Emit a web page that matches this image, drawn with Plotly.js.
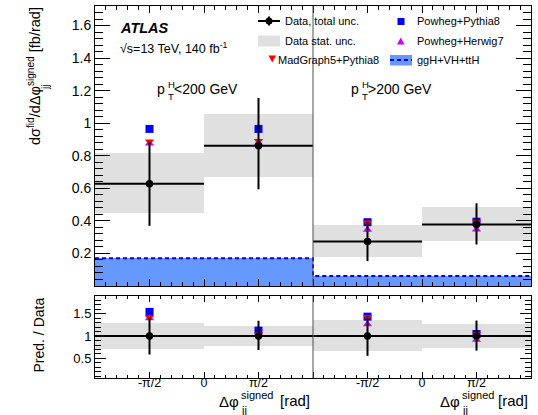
<!DOCTYPE html>
<html>
<head>
<meta charset="utf-8">
<script src="https://cdn.plot.ly/plotly-3.0.1.min.js"></script>
<style>html,body{margin:0;padding:0;background:#fff;}#chart{width:538px;height:415px;}</style>
</head>
<body>
<div id="chart"></div>
<script>
// ---------- data ----------
const binCenters = [0.5, 1.5, 2.5, 3.5];           // bins: pT<200 (-pi..0, 0..pi), pT>200 (-pi..0, 0..pi)
const dataVal      = [0.628, 0.862, 0.274, 0.378];
const dataErrUp    = [0.257, 0.293, 0.120, 0.130];
const dataErrDown  = [0.258, 0.268, 0.121, 0.123];
const statLow      = [0.450, 0.670, 0.180, 0.278];
const statHigh     = [0.815, 1.055, 0.374, 0.483];
const powhegPythia = [0.965, 0.965, 0.392, 0.395];
const powhegHerwig = [0.875, 0.880, 0.345, 0.347];
const madgraph     = [0.887, 0.890, 0.390, 0.392];
const ggHsum       = [0.171, 0.171, 0.062, 0.062];
const tickVals  = [0.5, 1, 1.5, 2, 2.5, 3, 3.5];
const tickText  = ['-π/2', '0', 'π/2', ' ', '-π/2', '0', 'π/2'];
const yTickVals = [0.2, 0.4, 0.6, 0.8, 1.0, 1.2, 1.4, 1.6];
const yTickText = ['0.2', '0.4', '0.6', '0.8', '1', '1.2', '1.4', '1.6'];
const rTickVals = [0.5, 1, 1.5];
const rTickText = ['0.5', '1', '1.5'];

// ---------- derived ----------
const binHalf = 0.5;
const edges = binCenters.map(c => c - binHalf).concat([binCenters[binCenters.length - 1] + binHalf]);
const div = (a, b) => a.map((v, i) => v / b[i]);
const ones = dataVal.map(() => 1);

const FONT = 'Liberation Sans, Arial, Helvetica, sans-serif';
const STAT = 'rgb(224,224,224)';
const BLUEFILL = 'rgb(102,153,255)';
const BLUELINE = 'rgb(0,0,220)';
const C_PP = 'rgb(0,0,255)';
const C_PH = 'rgb(204,0,255)';
const C_MG = 'rgb(255,0,0)';

function statTrace(lo, hi, xa, ya) {
  return {type: 'bar', x: binCenters, base: lo, y: hi.map((v, i) => v - lo[i]), width: 1,
          marker: {color: STAT, line: {width: 0}}, xaxis: xa, yaxis: ya, hoverinfo: 'skip', showlegend: false};
}
function predTrace(vals, symbol, color, size, xa, ya) {
  return {type: 'scatter', mode: 'markers', x: binCenters, y: vals, xaxis: xa, yaxis: ya,
          marker: {symbol: symbol, color: color, size: size, line: {width: 0}}, showlegend: false, cliponaxis: false};
}
function dataTrace(vals, up, dn, xa, ya) {
  return {type: 'scatter', mode: 'markers', x: binCenters, y: vals, xaxis: xa, yaxis: ya,
          marker: {symbol: 'circle', color: 'black', size: 7.5},
          error_x: {type: 'constant', value: binHalf, width: 0, thickness: 2, color: 'black'},
          error_y: {type: 'data', symmetric: false, array: up, arrayminus: dn, width: 0, thickness: 2, color: 'black'},
          showlegend: false};
}

const traces = [
  // top panel
  statTrace(statLow, statHigh, 'x', 'y'),
  {type: 'bar', x: binCenters, y: ggHsum, width: 1, marker: {color: BLUEFILL, line: {width: 0}},
   xaxis: 'x', yaxis: 'y', hoverinfo: 'skip', showlegend: false},
  {type: 'scatter', mode: 'lines', x: edges, y: ggHsum.concat([ggHsum[ggHsum.length - 1]]), line: {shape: 'hv', color: BLUELINE, width: 2, dash: '4px,3px'},
   xaxis: 'x', yaxis: 'y', showlegend: false},
  predTrace(powhegPythia, 'square', C_PP, 8, 'x', 'y'),
  predTrace(powhegHerwig, 'triangle-up', C_PH, 8, 'x', 'y'),
  predTrace(madgraph, 'triangle-down', C_MG, 8, 'x', 'y'),
  dataTrace(dataVal, dataErrUp, dataErrDown, 'x', 'y'),
  // ratio panel
  statTrace(div(statLow, dataVal), div(statHigh, dataVal), 'x2', 'y2'),
  predTrace(div(powhegPythia, dataVal), 'square', C_PP, 8, 'x2', 'y2'),
  predTrace(div(powhegHerwig, dataVal), 'triangle-up', C_PH, 8, 'x2', 'y2'),
  predTrace(div(madgraph, dataVal), 'triangle-down', C_MG, 8, 'x2', 'y2'),
  dataTrace(ones, div(dataErrUp, dataVal), div(dataErrDown, dataVal), 'x2', 'y2')
];

// ---------- layout helpers (pixel -> paper) ----------
const W = 538, H = 415, ML = 95, MR = 7, MT = 6, MB = 37;
const PW = W - ML - MR, PH = H - MT - MB;
const px = x => (x - ML) / PW;
const py = y => (H - MB - y) / PH;

function ann(text, x, y, o) {
  o = o || {};
  return Object.assign({text: text, xref: 'paper', yref: 'paper', x: px(x), y: py(y), showarrow: false,
    xanchor: 'left', yanchor: 'middle', font: {family: FONT, size: 11, color: 'black'}}, o);
}

const axisCommon = {showline: true, linecolor: 'black', linewidth: 1, mirror: 'allticks', ticks: 'inside',
  tickcolor: 'black', zeroline: false, showgrid: false, tickfont: {family: FONT, color: 'black'}};

const layout = {
  width: W, height: H, margin: {l: ML, r: MR, t: MT, b: MB},
  paper_bgcolor: 'white', plot_bgcolor: 'white', barmode: 'overlay', bargap: 0, showlegend: false,
  font: {family: FONT, color: 'black'},
  xaxis: Object.assign({}, axisCommon, {range: [0, 4], anchor: 'y', tickmode: 'array', tickvals: tickVals,
    showticklabels: false, ticklen: 7, minor: {dtick: 0.1, tick0: 0, ticks: 'inside', ticklen: 4, tickcolor: 'black'}}),
  yaxis: Object.assign({}, axisCommon, {domain: [py(286), 1], range: [0, 1.72], tickmode: 'array', tickvals: yTickVals,
    ticktext: yTickText, ticklen: 15, tickfont: {family: FONT, size: 14, color: 'black'},
    minor: {dtick: 0.04, tick0: 0, ticks: 'inside', ticklen: 8, tickcolor: 'black'}}),
  xaxis2: Object.assign({}, axisCommon, {range: [0, 4], anchor: 'y2', tickmode: 'array', tickvals: tickVals,
    ticktext: tickText, ticklen: 6, ticklabelstandoff: -7, tickfont: {family: FONT, size: 12.5, color: 'black'},
    minor: {dtick: 0.1, tick0: 0, ticks: 'inside', ticklen: 3, tickcolor: 'black'}}),
  yaxis2: Object.assign({}, axisCommon, {domain: [0, py(296)], range: [0.066, 1.89], tickmode: 'array', tickvals: rTickVals,
    ticktext: rTickText, ticklen: 11, tickfont: {family: FONT, size: 13, color: 'black'},
    minor: {dtick: 0.1, tick0: 0, ticks: 'inside', ticklen: 6, tickcolor: 'black'}}),
  shapes: [
    {type: 'line', xref: 'x', yref: 'y domain', x0: 2, x1: 2, y0: 0, y1: 1, line: {color: 'rgb(80,80,80)', width: 1}},
    {type: 'line', xref: 'x2', yref: 'y2 domain', x0: 2, x1: 2, y0: 0, y1: 1, line: {color: 'rgb(80,80,80)', width: 1}},
    // legend symbols
    {type: 'line', xref: 'paper', yref: 'paper', x0: px(258), x1: px(280), y0: py(21), y1: py(21), line: {color: 'black', width: 2}},
    {type: 'line', xref: 'paper', yref: 'paper', x0: px(269), x1: px(269), y0: py(16.5), y1: py(25.5), line: {color: 'black', width: 2}},
    {type: 'circle', xref: 'paper', yref: 'paper', x0: px(265.5), x1: px(272.5), y0: py(17.5), y1: py(24.5), fillcolor: 'black', line: {width: 0}},
    {type: 'rect', xref: 'paper', yref: 'paper', x0: px(258), x1: px(280), y0: py(35.5), y1: py(46.5), fillcolor: STAT, line: {width: 0}},
    {type: 'path', xref: 'paper', yref: 'paper', path: `M${px(268.5)},${py(55.5)} L${px(276)},${py(55.5)} L${px(272.25)},${py(62.5)} Z`, fillcolor: C_MG, line: {width: 0}},
    {type: 'rect', xref: 'paper', yref: 'paper', x0: px(397.5), x1: px(404.5), y0: py(18), y1: py(25), fillcolor: C_PP, line: {width: 0}},
    {type: 'path', xref: 'paper', yref: 'paper', path: `M${px(397)},${py(44.5)} L${px(404.5)},${py(44.5)} L${px(400.75)},${py(37.5)} Z`, fillcolor: C_PH, line: {width: 0}},
    {type: 'rect', xref: 'paper', yref: 'paper', x0: px(390), x1: px(412), y0: py(55), y1: py(65.5), fillcolor: BLUEFILL, line: {width: 0}},
    {type: 'line', xref: 'paper', yref: 'paper', x0: px(390), x1: px(412), y0: py(60), y1: py(60), line: {color: BLUELINE, width: 2, dash: '4px,3px'}}
  ],
  annotations: [
    ann('<b><i>ATLAS</i></b>', 118, 28, {font: {family: FONT, size: 14.5, color: 'black'}}),
    ann('√s=13 TeV, 140 fb<sup>-1</sup>', 118, 48, {font: {family: FONT, size: 12.5, color: 'black'}}),
    // legend texts
    ann('Data, total unc.', 283, 21),
    ann('Data stat. unc.', 283, 41),
    ann('MadGraph5+Pythia8', 276, 60),
    ann('Powheg+Pythia8', 415, 21),
    ann('Powheg+Herwig7', 415, 41),
    ann('ggH+VH+ttH', 415, 60),
    // region labels
    ann('p', 167, 89, {xanchor: 'right', font: {family: FONT, size: 14, color: 'black'}}),
    ann('H', 166, 84, {font: {family: FONT, size: 9.5, color: 'black'}}),
    ann('T', 166, 96, {font: {family: FONT, size: 9.5, color: 'black'}}),
    ann('&lt;200 GeV', 172, 89, {font: {family: FONT, size: 14, color: 'black'}}),
    ann('p', 361, 89, {xanchor: 'right', font: {family: FONT, size: 14, color: 'black'}}),
    ann('H', 360, 84, {font: {family: FONT, size: 9.5, color: 'black'}}),
    ann('T', 360, 96, {font: {family: FONT, size: 9.5, color: 'black'}}),
    ann('&gt;200 GeV', 366, 89, {font: {family: FONT, size: 14, color: 'black'}}),
    // y titles
    ann('dσ<sup>fid</sup>/dΔφ<sup>signed</sup> [fb/rad]', 34, 5, {xanchor: 'center', yanchor: 'top', textangle: -90, font: {family: FONT, size: 14.5, color: 'black'}}),
    ann('jj', 45, 88, {xanchor: 'center', yanchor: 'middle', textangle: -90, font: {family: FONT, size: 10, color: 'black'}}),
    ann('Pred. / Data', 38.5, 335, {xanchor: 'center', yanchor: 'middle', textangle: -90, font: {family: FONT, size: 14, color: 'black'}}),
    // x titles
    ann('Δφ', 241, 401, {xanchor: 'right', font: {family: FONT, size: 15, color: 'black'}}),
    ann('signed', 239, 394.5, {font: {family: FONT, size: 11, color: 'black'}}),
    ann('jj', 239, 410, {font: {family: FONT, size: 11, color: 'black'}}),
    ann('[rad]', 312, 400, {xanchor: 'right', font: {family: FONT, size: 15, color: 'black'}}),
    ann('Δφ', 462, 401, {xanchor: 'right', font: {family: FONT, size: 15, color: 'black'}}),
    ann('signed', 460, 394.5, {font: {family: FONT, size: 11, color: 'black'}}),
    ann('jj', 460, 410, {font: {family: FONT, size: 11, color: 'black'}}),
    ann('[rad]', 530, 400, {xanchor: 'right', font: {family: FONT, size: 15, color: 'black'}})
  ]
};

Plotly.newPlot('chart', traces, layout, {staticPlot: true, displayModeBar: false});
</script>
</body>
</html>
